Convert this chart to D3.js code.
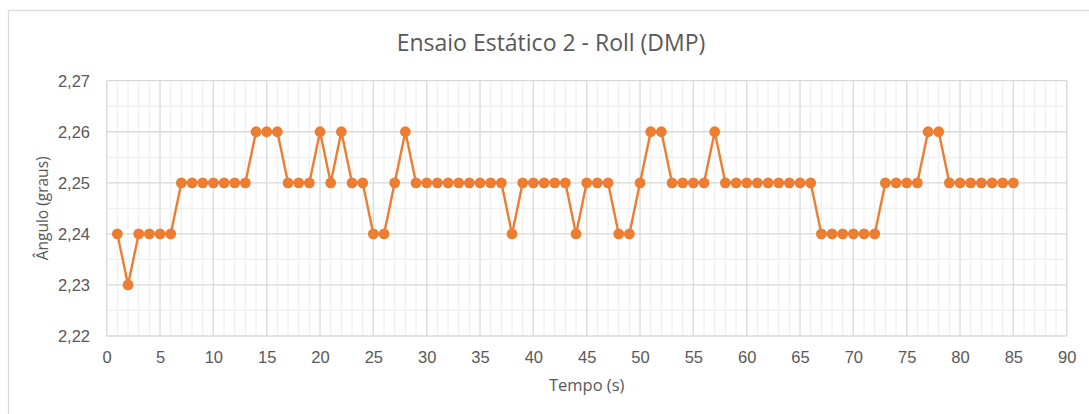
<!DOCTYPE html>
<html>
<head>
<meta charset="utf-8">
<script src="https://cdn.jsdelivr.net/npm/d3@7"></script>
<style>
  html, body { margin: 0; padding: 0; background: #fff; }
  svg { display: block; font-family: "Open Sans", "Noto Sans", sans-serif; }
</style>
</head>
<body>
<svg id="chart" width="1089" height="414"></svg>
<script>
// Roll angle (DMP) over time, static test 2
const tempo = [
  1, 2, 3, 4, 5, 6, 7, 8, 9, 10, 11, 12, 13, 14, 15, 16, 17, 18, 19, 20,
  21, 22, 23, 24, 25, 26, 27, 28, 29, 30, 31, 32, 33, 34, 35, 36, 37, 38, 39, 40,
  41, 42, 43, 44, 45, 46, 47, 48, 49, 50, 51, 52, 53, 54, 55, 56, 57, 58, 59, 60,
  61, 62, 63, 64, 65, 66, 67, 68, 69, 70, 71, 72, 73, 74, 75, 76, 77, 78, 79, 80,
  81, 82, 83, 84, 85
];
const angulo = [
  2.24, 2.23, 2.24, 2.24, 2.24, 2.24, 2.25, 2.25, 2.25, 2.25, 2.25, 2.25, 2.25, 2.26, 2.26, 2.26, 2.25, 2.25, 2.25, 2.26,
  2.25, 2.26, 2.25, 2.25, 2.24, 2.24, 2.25, 2.26, 2.25, 2.25, 2.25, 2.25, 2.25, 2.25, 2.25, 2.25, 2.25, 2.24, 2.25, 2.25,
  2.25, 2.25, 2.25, 2.24, 2.25, 2.25, 2.25, 2.24, 2.24, 2.25, 2.26, 2.26, 2.25, 2.25, 2.25, 2.25, 2.26, 2.25, 2.25, 2.25,
  2.25, 2.25, 2.25, 2.25, 2.25, 2.25, 2.24, 2.24, 2.24, 2.24, 2.24, 2.24, 2.25, 2.25, 2.25, 2.25, 2.26, 2.26, 2.25, 2.25,
  2.25, 2.25, 2.25, 2.25, 2.25
];
const xTicks = [0, 5, 10, 15, 20, 25, 30, 35, 40, 45, 50, 55, 60, 65, 70, 75, 80, 85, 90];
const yTicks = [2.22, 2.23, 2.24, 2.25, 2.26, 2.27];
const xMinor = d3.range(0, 91, 1);
const yMinor = [2.225, 2.235, 2.245, 2.255, 2.265];

const titulo = "Ensaio Estático 2 - Roll (DMP)";
const tituloX = "Tempo (s)";
const tituloY = "Ângulo (graus)";

const svg = d3.select("#chart");
const plot = { left: 106.7, right: 1066.7, top: 80.7, bottom: 336 };

const x = d3.scaleLinear().domain([0, 90]).range([plot.left, plot.right]);
const y = d3.scaleLinear().domain([2.22, 2.27]).range([plot.bottom, plot.top]);
const fmt = d3.format(".2f");
const comma = v => fmt(v).replace(".", ",");

// chart frame
svg.append("rect")
  .attr("x", 8.5).attr("y", 10.5)
  .attr("width", 1100).attr("height", 420)
  .attr("fill", "#fff").attr("stroke", "#d9d9d9").attr("stroke-width", 1.3);

const grid = svg.append("g");
// minor gridlines
grid.selectAll(".vmin").data(xMinor.filter(d => d % 5 !== 0)).join("line")
  .attr("x1", d => x(d)).attr("x2", d => x(d))
  .attr("y1", plot.top).attr("y2", plot.bottom)
  .attr("stroke", "#f0f0f0").attr("stroke-width", 1.3);
grid.selectAll(".hmin").data(yMinor).join("line")
  .attr("x1", plot.left).attr("x2", plot.right)
  .attr("y1", d => y(d)).attr("y2", d => y(d))
  .attr("stroke", "#f0f0f0").attr("stroke-width", 1.3);
// major gridlines
grid.selectAll(".vmaj").data(xTicks).join("line")
  .attr("x1", d => x(d)).attr("x2", d => x(d))
  .attr("y1", plot.top).attr("y2", plot.bottom)
  .attr("stroke", "#d9d9d9").attr("stroke-width", 1.3);
grid.selectAll(".hmaj").data(yTicks).join("line")
  .attr("x1", plot.left).attr("x2", plot.right)
  .attr("y1", d => y(d)).attr("y2", d => y(d))
  .attr("stroke", "#d9d9d9").attr("stroke-width", 1.3);

// axes (labels only)
const xAxis = d3.axisBottom(x).tickValues(xTicks).tickSize(0).tickPadding(0).tickFormat(d3.format("d"));
const gx = svg.append("g").attr("transform", `translate(0,${plot.bottom})`).call(xAxis);
gx.select(".domain").remove();
gx.selectAll("text").attr("y", 27).attr("dy", null)
  .attr("fill", "#595959").style("font-size", "16.5px");

const yAxis = d3.axisLeft(y).tickValues(yTicks).tickSize(0).tickPadding(0).tickFormat(comma);
const gy = svg.append("g").attr("transform", `translate(90,0)`).call(yAxis);
gy.select(".domain").remove();
gy.selectAll("text").attr("x", 0).attr("dy", "0.35em")
  .attr("fill", "#595959").style("font-size", "16.5px");

// series
const pts = tempo.map((t, i) => [t, angulo[i]]);
svg.append("path")
  .datum(pts)
  .attr("fill", "none")
  .attr("stroke", "#ED7D31")
  .attr("stroke-width", 2.4)
  .attr("stroke-linejoin", "round")
  .attr("d", d3.line().x(d => x(d[0])).y(d => y(d[1])));
svg.append("g").selectAll("circle").data(pts).join("circle")
  .attr("cx", d => x(d[0])).attr("cy", d => y(d[1]))
  .attr("r", 5.4).attr("fill", "#ED7D31");

// titles
svg.append("text")
  .attr("x", 551).attr("y", 51)
  .attr("text-anchor", "middle")
  .attr("fill", "#595959").style("font-size", "23px")
  .text(titulo);
svg.append("text")
  .attr("x", (plot.left + plot.right) / 2).attr("y", 391)
  .attr("text-anchor", "middle")
  .attr("fill", "#595959").style("font-size", "16.5px")
  .text(tituloX);
svg.append("text")
  .attr("transform", `translate(48,${(plot.top + plot.bottom) / 2}) rotate(-90)`)
  .attr("text-anchor", "middle")
  .attr("fill", "#595959").style("font-size", "15.5px")
  .text(tituloY);
</script>
</body>
</html>
